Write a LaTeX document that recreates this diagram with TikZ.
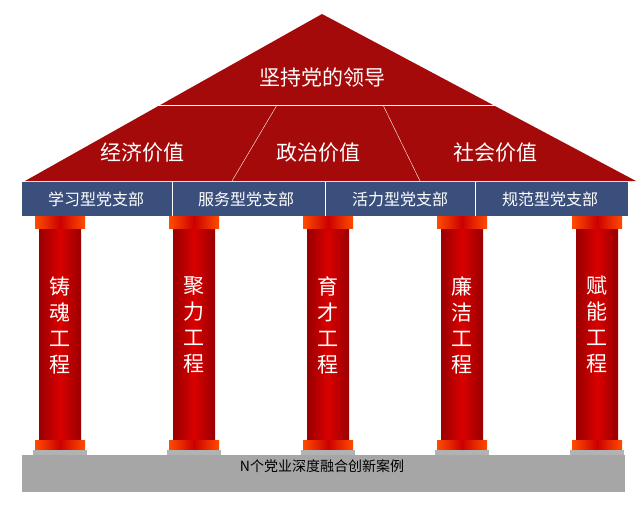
\documentclass[tikz,border=0pt]{standalone}
\usepackage{fontspec}
\setmainfont{Noto Sans CJK SC}
\usetikzlibrary{positioning}
\definecolor{roofred}{HTML}{A50A0A}
\definecolor{barblue}{HTML}{3B4F7D}
\definecolor{groundgray}{HTML}{A6A6A6}
\tikzset{
  rooftext/.style={text=white,font=\fontsize{21}{21}\selectfont},
  bartext/.style={text=white,font=\fontsize{16}{16}\selectfont},
  pillartext/.style={text=white,font=\fontsize{21}{26}\selectfont,align=center},
}
\begin{document}
\begin{tikzpicture}[x=1pt,y=-1pt]
  \useasboundingbox (0,0) rectangle (639,530);
  % roof
  \fill[roofred] (322,14) -- (636,181) -- (25,181) -- cycle;
  \draw[white,thin] (150,105) -- (495,105);
  \draw[white,thin] (277,105) -- (232,181);
  \draw[white,thin] (383,105) -- (420,181);
  \node[rooftext] (top) at (322,78) {坚持党的领导};
  \node[rooftext] (v1) at (142,153) {经济价值};
  \node[rooftext] (v2) at (318,153) {政治价值};
  \node[rooftext] (v3) at (495,153) {社会价值};
  % branch bar
  \fill[barblue] (22,182) rectangle (628,216);
  \foreach \x in {172,325,475} \draw[white,thick] (\x,182) -- (\x,216);
  \foreach \x/\t in {96/学习型党支部,246/服务型党支部,400/活力型党支部,550/规范型党支部}
    \node[bartext] at (\x,199) {\t};
  % ground
  \fill[groundgray] (22,455) rectangle (625,492);
  \node[font=\fontsize{14}{14}\selectfont] (case) at (322,466) {N个党业深度融合创新案例};
  % pillars
  \foreach \x/\t [count=\i] in {60/铸\\魂\\工\\程,194/聚\\力\\工\\程,328/育\\才\\工\\程,462/廉\\洁\\工\\程,597/赋\\能\\工\\程} {
    \shade[left color=red!60!black,right color=red!60!black,middle color=red!85!black] (\x-21,228) rectangle (\x+21,440);
    \shade[left color=orange!60!red,right color=orange!60!red,middle color=red!80!black] (\x-25,216) rectangle (\x+25,228);
    \shade[left color=orange!60!red,right color=orange!60!red,middle color=red!80!black] (\x-25,440) rectangle (\x+25,450);
    \fill[gray!60] (\x-27,450) rectangle (\x+27,455);
    \node[pillartext] (p\i) at (\x,325) {\t};
  }
\end{tikzpicture}
\end{document}
